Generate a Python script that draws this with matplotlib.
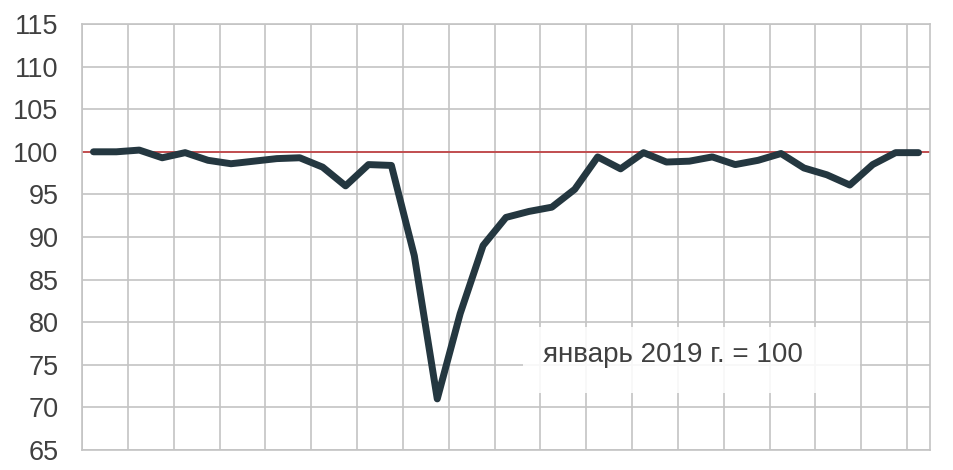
import numpy as np
import matplotlib
matplotlib.use("Agg")
import matplotlib.pyplot as plt
from matplotlib.patches import Rectangle

# monthly index, January 2019 = 100 (Jan 2019 .. Jan 2022)
months = ["2019-%02d" % m for m in range(1, 13)] + \
         ["2020-%02d" % m for m in range(1, 13)] + \
         ["2021-%02d" % m for m in range(1, 13)] + ["2022-01"]
index_vals = [100.0, 100.0, 100.2, 99.3, 99.9, 99.0, 98.6, 98.9, 99.2, 99.3,
              98.2, 96.0, 98.5, 98.4, 87.8, 71.0, 81.0, 89.0, 92.3, 93.0,
              93.5, 95.6, 99.4, 98.0, 99.9, 98.8, 98.9, 99.4, 98.5, 99.0,
              99.8, 98.1, 97.3, 96.1, 98.5, 99.9, 99.9]
base_level = 100
y_ticks = list(range(65, 116, 5))
note = "январь 2019 г. = 100"

plt.rcParams['font.family'] = ['Liberation Sans', 'DejaVu Sans']

fig = plt.figure(figsize=(9.54, 4.70), dpi=100)
ax = fig.add_axes([82/954, 20/470, 848/954, 426/470])

x = np.arange(len(months))
grid_col = "#c4c4c4"

ax.set_xlim(-0.5, len(months) - 0.5)
ax.set_ylim(y_ticks[0], y_ticks[-1])
ax.set_yticks(y_ticks)
ax.set_xticks(np.arange(-0.5, len(months), 2))
ax.set_xticklabels([])
ax.tick_params(length=0, labelsize=19.5, labelcolor="#404040", pad=17)
ax.grid(True, color=grid_col, linewidth=1.2)
ax.set_axisbelow(True)
for s in ax.spines.values():
    s.set_color(grid_col)
    s.set_linewidth(1.2)

ax.axhline(base_level, color="#c0393b", linewidth=1.2, zorder=2)
ax.plot(x, index_vals, color="#243740", linewidth=5, solid_joinstyle="round",
        solid_capstyle="round", zorder=3)

# white label box over the grid
ax.add_patch(Rectangle((18.75, 71.7), 14.7, 7.75, facecolor="white",
                       edgecolor="none", alpha=0.88, zorder=2.5))
ax.text(25.3, 76.1, note, ha="center", va="center", fontsize=20,
        color="#404040", zorder=4)

fig.savefig("out.png", dpi=100)
